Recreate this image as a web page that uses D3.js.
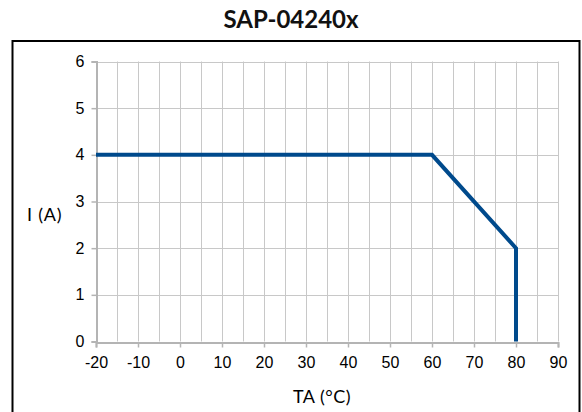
<!DOCTYPE html>
<html>
<head>
<meta charset="utf-8">
<script src="https://cdn.jsdelivr.net/npm/d3@7"></script>
<style>
  html, body { margin: 0; padding: 0; background: #fff; }
  svg { display: block; }
</style>
</head>
<body>
<svg id="chart" width="582" height="412"></svg>
<script>
// Derating curve: ambient temperature vs. output current
const tempC = [-20, 60, 80, 80];
const currentA = [4, 4, 2, 0];
const xTicks = [-20, -10, 0, 10, 20, 30, 40, 50, 60, 70, 80, 90];
const yTicks = [0, 1, 2, 3, 4, 5, 6];
const xGrid = d3.range(-20, 91, 5);

const svg = d3.select("#chart");

// Outer frame
svg.append("rect")
  .attr("x", 12.5).attr("y", 41)
  .attr("width", 567).attr("height", 380)
  .attr("fill", "none").attr("stroke", "#000").attr("stroke-width", 2);

// Title
svg.append("text")
  .attr("x", 291).attr("y", 28)
  .attr("text-anchor", "middle")
  .attr("font-family", "Lato, 'Open Sans', sans-serif")
  .attr("font-weight", "bold")
  .attr("font-size", 24)
  .attr("fill", "#111")
  .text("SAP-04240x");

const x = d3.scaleLinear().domain([-20, 90]).range([96, 558]);
const y = d3.scaleLinear().domain([0, 6]).range([341.5, 61.5]);

// Grid
const grid = svg.append("g");
grid.selectAll("line.v").data(xGrid).join("line")
  .attr("x1", d => Math.round(x(d)) + 0.5).attr("x2", d => Math.round(x(d)) + 0.5)
  .attr("y1", y(6)).attr("y2", y(0))
  .attr("stroke", "#c8c8c8").attr("stroke-width", 1);
grid.selectAll("line.h").data(yTicks).join("line")
  .attr("x1", x(-20)).attr("x2", x(90))
  .attr("y1", d => Math.round(y(d)) + 0.5).attr("y2", d => Math.round(y(d)) + 0.5)
  .attr("stroke", "#c8c8c8").attr("stroke-width", 1);

// Plain hyphen-minus for negative tick values
const fmt = d => String(d);

// Axes
const xAxis = svg.append("g")
  .attr("transform", `translate(0,${Math.round(y(0)) + 0.5})`)
  .call(d3.axisBottom(x).tickValues(xTicks).tickSize(5).tickPadding(9).tickFormat(fmt));
const yAxis = svg.append("g")
  .attr("transform", `translate(${Math.round(x(-20)) + 0.5},0)`)
  .call(d3.axisLeft(y).tickValues(yTicks).tickSize(5).tickPadding(7).tickFormat(fmt));

[xAxis, yAxis].forEach(a => {
  a.select(".domain").attr("stroke", "#b4b4b4").attr("stroke-width", 2);
  a.selectAll(".tick line").attr("stroke", "#b4b4b4").attr("stroke-width", 1.5);
  a.selectAll(".tick text")
    .attr("font-family", "'Liberation Sans', Arial, sans-serif")
    .attr("font-size", 16)
    .attr("fill", "#000");
});

// Axis titles
svg.append("text")
  .attr("x", 322).attr("y", 403)
  .attr("text-anchor", "middle")
  .attr("font-family", "Lato, 'Open Sans', sans-serif")
  .attr("font-size", 18)
  .attr("letter-spacing", 0.5)
  .attr("fill", "#000")
  .text("TA (°C)");
svg.append("text")
  .attr("x", 27).attr("y", 221)
  .attr("font-family", "Lato, 'Open Sans', sans-serif")
  .attr("font-size", 18)
  .attr("letter-spacing", 0.8)
  .attr("fill", "#000")
  .text("I (A)");

// Curve
const line = d3.line().x((d, i) => x(tempC[i])).y((d, i) => y(currentA[i]));
svg.append("path")
  .datum(tempC)
  .attr("d", line)
  .attr("fill", "none")
  .attr("stroke", "#004a8c")
  .attr("stroke-width", 4)
  .attr("stroke-linejoin", "miter");
</script>
</body>
</html>
